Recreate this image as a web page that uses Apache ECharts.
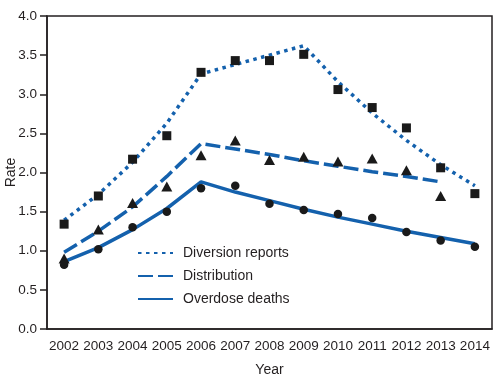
<!DOCTYPE html>
<html><head><meta charset="utf-8">
<script src="https://cdn.jsdelivr.net/npm/echarts@6/dist/echarts.min.js"></script>
<style>html,body{margin:0;padding:0;background:#fff}#c{width:504px;height:383px}</style>
</head><body><div id="c"></div>
<script>
const years = ['2002','2003','2004','2005','2006','2007','2008','2009','2010','2011','2012','2013','2014'];
const yTicks = [0,0.5,1,1.5,2,2.5,3,3.5,4];
// fitted trend lines
const diversionTrend = [1.39,1.72,2.13,2.63,3.26,3.38,3.50,3.62,3.16,2.76,2.41,2.10,1.83];
const distributionTrend = [0.98,1.25,1.56,1.95,2.37,2.30,2.23,2.15,2.08,2.01,1.95,1.88,null];
const deathsTrend = [0.86,1.04,1.27,1.54,1.88,1.75,1.64,1.53,1.43,1.34,1.25,1.17,1.09];
// observed rates
const diversionObs = [1.34,1.70,2.17,2.47,3.28,3.43,3.43,3.51,3.06,2.83,2.57,2.06,1.73];
const distributionObs = [0.90,1.27,1.61,1.82,2.22,2.41,2.16,2.20,2.14,2.18,2.03,1.70,null];
const deathsObs = [0.82,1.02,1.30,1.50,1.80,1.83,1.60,1.52,1.47,1.42,1.24,1.13,1.05];

const blue = '#1461ad';
const ink = '#231f20';
const mark = '#1a1a1a';
const font = 'Liberation Sans';
const chart = echarts.init(document.getElementById('c'));
chart.setOption({
  animation: false,
  backgroundColor: '#fff',
  grid: {left: 47, right: 12, top: 16, bottom: 54, show: true, borderColor: ink, borderWidth: 1.5,
    containLabel: false, outerBoundsMode: 'none'},
  legend: {
    orient: 'vertical', left: 137, top: 246, padding: 0, itemWidth: 35, itemHeight: 14, itemGap: 9,
    data: ['Diversion reports','Distribution','Overdose deaths'],
    itemStyle: {opacity: 0},
    textStyle: {fontFamily: font, fontSize: 14, color: ink, padding: [0,0,0,5]}
  },
  xAxis: {
    type: 'category', data: years, boundaryGap: true,
    name: 'Year', nameLocation: 'middle', nameGap: 34,
    nameTextStyle: {fontFamily: font, fontSize: 14, color: ink},
    axisLine: {lineStyle: {color: ink, width: 1.5}},
    axisTick: {alignWithLabel: true, length: 7, lineStyle: {color: ink, width: 1.5}},
    axisLabel: {fontFamily: font, fontSize: 13.5, color: ink, margin: 10, interval: 0}
  },
  yAxis: {
    type: 'value', min: 0, max: 4, interval: 0.5,
    name: 'Rate', nameLocation: 'middle', nameGap: 29, nameMoveOverlap: false,
    nameTextStyle: {fontFamily: font, fontSize: 14, color: ink},
    axisLine: {show: true, lineStyle: {color: ink, width: 1.5}},
    axisTick: {show: true, length: 7, lineStyle: {color: ink, width: 1.5}},
    splitLine: {show: false},
    axisLabel: {fontFamily: font, fontSize: 13.5, color: ink, margin: 10,
      formatter: v => yTicks.includes(v) ? v.toFixed(1) : ''}
  },
  series: [
    {name: 'Diversion reports', type: 'line', data: diversionTrend, symbol: 'none', z: 2,
      lineStyle: {color: blue, width: 3.5, type: [3.5, 4.5], cap: 'butt'}, itemStyle: {color: blue}},
    {name: 'Distribution', type: 'line', data: distributionTrend, symbol: 'none', z: 2,
      lineStyle: {color: blue, width: 3.5, type: [15, 5], cap: 'butt'}, itemStyle: {color: blue}},
    {name: 'Overdose deaths', type: 'line', data: deathsTrend, symbol: 'none', z: 2,
      lineStyle: {color: blue, width: 3.5, type: 'solid'}, itemStyle: {color: blue}},
    {name: 'divObs', type: 'scatter', data: diversionObs, symbol: 'rect', symbolSize: 9, z: 5,
      itemStyle: {color: mark, opacity: 1}},
    {name: 'distObs', type: 'scatter', data: distributionObs, symbol: 'triangle', symbolSize: [11,10], z: 5,
      itemStyle: {color: mark, opacity: 1}},
    {name: 'deathObs', type: 'scatter', data: deathsObs, symbol: 'circle', symbolSize: 8.5, z: 5,
      itemStyle: {color: mark, opacity: 1}}
  ]
});
</script></body></html>
